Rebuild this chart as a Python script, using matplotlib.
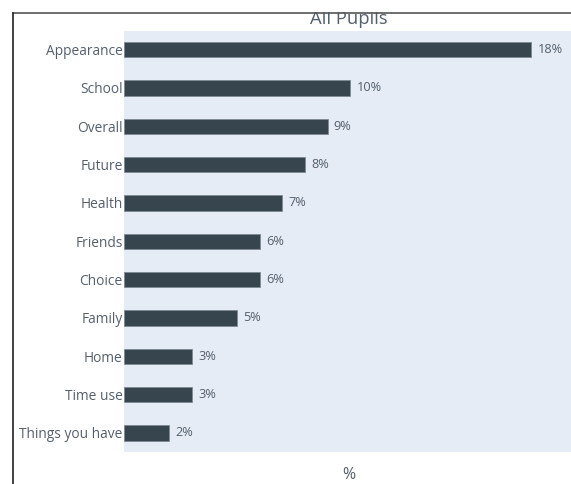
import matplotlib.pyplot as plt
from matplotlib.lines import Line2D

# Share of pupils by area (percent)
categories = ['Appearance', 'School', 'Overall', 'Future', 'Health', 'Friends',
              'Choice', 'Family', 'Home', 'Time use', 'Things you have']
values = [18, 10, 9, 8, 7, 6, 6, 5, 3, 3, 2]
value_labels = ['18%', '10%', '9%', '8%', '7%', '6%', '6%', '5%', '3%', '3%', '2%']

plt.rcParams['font.family'] = ['Open Sans', 'DejaVu Sans']
text_color = '#55606d'

fig = plt.figure(figsize=(5.71, 4.84), dpi=100)
ax = fig.add_axes([124 / 571, 32 / 484, 450 / 571, 421.5 / 484])
ax.set_facecolor('#E5ECF6')

ypos = list(range(len(categories)))
ax.barh(ypos, values, height=0.4, color='#37454f', edgecolor='#7d8a94', linewidth=0.6)
for y, v, lab in zip(ypos, values, value_labels):
    ax.text(v + 0.28, y, lab, va='center', ha='left', fontsize=9.2, color=text_color)

ax.set_ylim(len(categories) - 0.5, -0.5)
ax.set_xlim(0, 19.9)
ax.set_yticks(ypos)
ax.set_yticklabels(categories, fontsize=9.9, color=text_color)
ax.tick_params(axis='y', length=0, pad=1)
ax.set_xticks([])
for s in ax.spines.values():
    s.set_visible(False)

ax.set_xlabel('%', fontsize=11.5, color=text_color, labelpad=11)
fig.text(349 / 571, 1 - 19 / 484, 'All Pupils', ha='center', va='center',
         fontsize=13.2, color=text_color)

# frame lines along the top and left
fig.patches.append(plt.Rectangle((0, 1 - 12 / 484), 1, 12 / 484, transform=fig.transFigure,
                                 facecolor='white', edgecolor='none', zorder=5))
fig.lines.append(Line2D([12.5 / 571, 1], [1 - 12.5 / 484] * 2, transform=fig.transFigure,
                        color='#555555', linewidth=1.2, zorder=6))
fig.lines.append(Line2D([12.5 / 571] * 2, [0, 1 - 12.5 / 484], transform=fig.transFigure,
                        color='#222222', linewidth=1.2, zorder=6))

fig.savefig('out.png', dpi=100)
